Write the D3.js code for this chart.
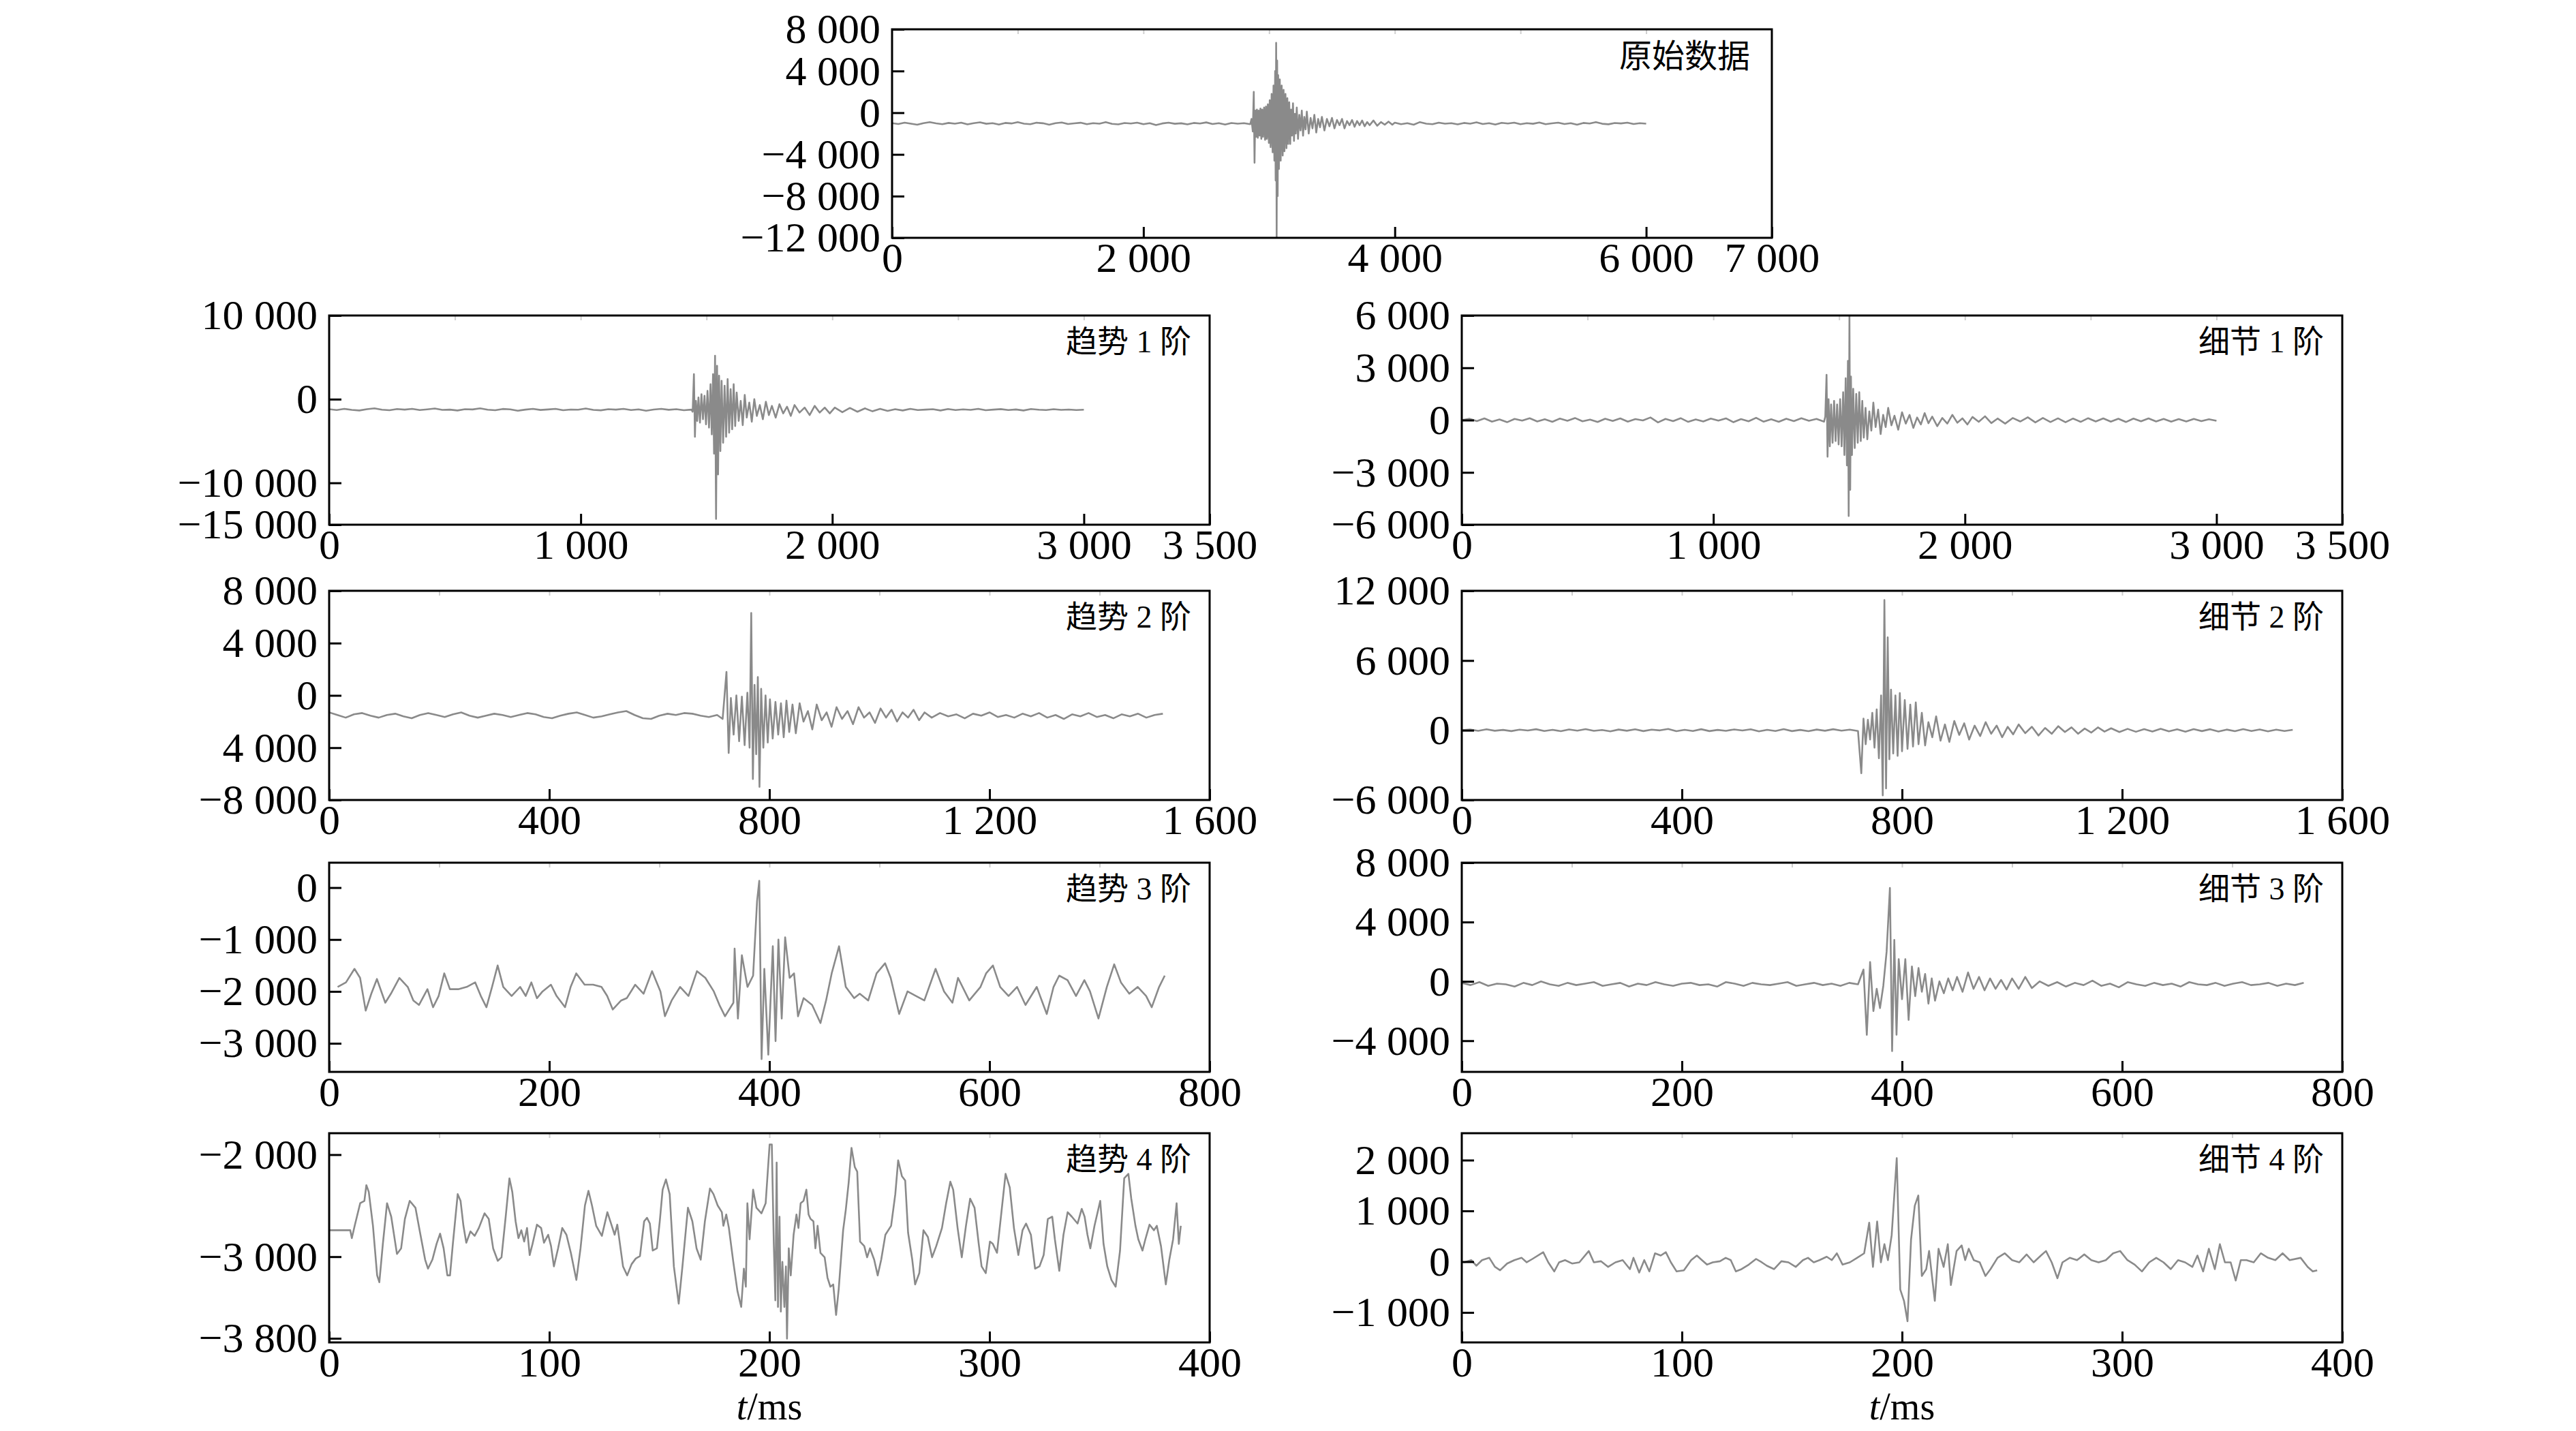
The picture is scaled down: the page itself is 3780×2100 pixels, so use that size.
<!DOCTYPE html>
<html>
<head>
<meta charset="utf-8">
<script src="https://cdn.jsdelivr.net/npm/d3@7"></script>
<style>
  body { margin: 0; background: #fff; }
  svg text { font-family: "Liberation Serif", "Noto Sans CJK SC", serif; fill: #000; }
</style>
</head>
<body>
<svg id="chart" width="3780" height="2100"></svg>
<script>
// ---------------- data ----------------
// quiet stretches are sampled on a regular grid: [start, step, values]
// bursts are written as [t, value] pairs

// raw signal (原始数据)
const rawPre = [-1000,-1080,-950,-1050,-1150,-1000,-900,-1020,-1100,-980,
  -1050,-950,-1120,-1000,-920,-1060,-1000,-1140,-980,-1030,
  -900,-1050,-1100,-960,-1010,-1150,-1000,-940,-1080,-1020,
  -960,-1100,-1000,-1050,-900,-1070,-1120,-990,-1040,-950,
  -1100,-1000,-1180,-1030,-950,-1060,-1010,-1120,-980,-1040,
  -930,-1080,-1000,-1130,-990,-1050,-1000];
const rawBurst = [[2850,-1100],[2860,-600],[2870,-1800],[2878,2000],[2884,-4800],[2890,200],[2896,-2300],[2903,300],[2910,-2400],[2917,200],[2924,-2200],[2931,400],[2938,-2500],[2945,300],[2952,-2300],[2960,500],[2968,-2600],[2975,600],[2982,-2500],[2990,800],[2998,-2900],[3005,1200],[3012,-3300],[3020,1800],[3028,-3800],[3035,2600],[3042,-4600],[3048,4000],[3052,-6500],[3056,6700],[3060,-12000],[3064,5000],[3068,-8000],[3072,3600],[3078,-5400],[3085,3200],[3092,-4600],[3100,2600],[3108,-4100],[3115,2200],[3122,-3700],[3130,1800],[3138,-3400],[3145,1400],[3152,-3000],[3160,1000],[3168,-3000],[3175,300],[3182,-2200],[3190,900],[3198,-2700],[3205,-100],[3212,-2000],[3220,500],[3230,-2500],[3240,-200],[3250,-1700],[3260,200],[3270,-2200],[3280,-400],[3290,-1600],[3300,100],[3315,-2000],[3330,-500],[3345,-1500],[3360,-200],[3375,-1900],[3390,-600],[3405,-1400],[3420,-400],[3440,-1700],[3460,-600],[3480,-1300],[3500,-500],[3520,-1500],[3540,-700],[3560,-1200],[3580,-600],[3600,-1500],[3620,-800],[3640,-1200],[3660,-700],[3680,-1350],[3700,-800],[3720,-1200],[3740,-750],[3760,-1300],[3780,-900],[3800,-1200],[3830,-750],[3860,-1250],[3890,-900],[3920,-1150],[3950,-850],[3980,-1150]];
const rawPost = [-950,-1100,-1000,-1150,-900,-1050,-1100,-950,-1050,-1000,
  -1120,-980,-1050,-920,-1080,-1000,-1130,-970,-1040,-950,
  -1100,-1000,-1060,-940,-1100,-1020,-950,-1080,-1000,-1150,
  -980,-1040,-900,-1060,-1110,-990,-1030,-950,-1080,-1000,-1050];

// trend level 1 (趋势1阶)
const trend1Pre = [-1200,-1300,-1150,-1280,-1350,-1200,-1100,-1260,-1320,-1180,-1250,-1150,-1300,-1220,-1120,-1280,-1250,-1350,-1200,-1230,-1100,-1260,-1320,-1170,-1220,-1380,-1250,-1150,-1290,-1230,-1160,-1320,-1240,-1260,-1120,-1280,-1330,-1200,-1250,-1160,-1300,-1220,-1380,-1240,-1150,-1270,-1200,-1320,-1250];
const trend1Burst = [[1445,-1500],[1450,3000],[1454,-4500],[1458,-200],[1463,-2600],[1468,200],[1474,-2800],[1480,600],[1486,-2400],[1492,400],[1498,-3000],[1504,1000],[1510,-3400],[1516,1800],[1521,-4200],[1526,3000],[1530,-6500],[1534,5200],[1538,-14300],[1542,4000],[1546,-9000],[1550,2800],[1555,-6200],[1560,2200],[1566,-5200],[1572,1600],[1578,-4500],[1584,2400],[1590,-4000],[1596,1200],[1602,-3600],[1608,1800],[1614,-3200],[1620,800],[1628,-2600],[1636,-200],[1644,-3100],[1652,500],[1660,-2200],[1670,-400],[1680,-2700],[1690,0],[1700,-2000],[1712,-700],[1724,-2400],[1736,-300],[1748,-1900],[1760,-800],[1775,-2200],[1790,-600],[1805,-1700],[1820,-900],[1835,-2000],[1850,-700],[1870,-1600],[1890,-1000],[1910,-1900],[1930,-800],[1950,-1600],[1970,-1000],[1990,-1700]];
const trend1Post = [-1000,-1550,-1050,-1500,-1100,-1450,-1150,-1400,-1200,-1350,-1150,-1300,-1250,-1200,-1350,-1180,-1300,-1220,-1280,-1150,-1320,-1250,-1190,-1300,-1230,-1350,-1180,-1260,-1300,-1200,-1280,-1240,-1300,-1260];

// detail level 1 (细节1阶)
const detail1Pre = [0,80,-60,100,-90,40,-120,70,-30,110,-80,50,-100,90,-40,120,-70,30,-110,80,-50,100,-90,60,-20,150,-130,70,-60,110,-100,40,-80,90,-30,100,-120,60,-70,130,-90,50,-100,80,-60,110,-40,70,-90];
const detail1Burst = [[1445,200],[1450,2600],[1454,-2100],[1458,1200],[1463,-1500],[1468,900],[1474,-1300],[1480,1100],[1486,-1200],[1492,900],[1498,-1400],[1504,1200],[1510,-1500],[1516,1600],[1521,-2000],[1526,2400],[1531,-2600],[1535,3400],[1538,-5500],[1541,6000],[1544,-4000],[1547,2500],[1551,-2000],[1556,1800],[1562,-1600],[1568,1500],[1574,-1300],[1580,1600],[1586,-1200],[1592,1100],[1598,-1000],[1605,700],[1612,-1100],[1620,500],[1628,-600],[1636,1000],[1645,-400],[1655,600],[1665,-800],[1675,300],[1685,-400],[1695,700],[1708,-300],[1720,250],[1735,-550],[1750,450],[1765,-200],[1780,300],[1795,-450],[1810,150],[1825,-250],[1840,400],[1855,-180],[1870,200],[1890,-350],[1910,120],[1930,-200],[1950,300],[1970,-150],[1990,100],[2010,-250],[2030,180],[2055,-100],[2080,220],[2105,-170],[2130,90],[2160,-200],[2190,120],[2220,-80],[2250,160],[2280,-130]];
const detail1Post = [120,-110,100,-120,90,-100,110,-80,100,-90,80,-110,90,-70,100,-80,70,-90,60,-80,70,-60,50,-40];

// trend level 2 (趋势2阶)
const trend2Pre = [-1300,-1500,-1700,-1450,-1350,-1550,-1700,-1500,-1400,-1600,-1750,-1500,-1350,-1500,-1650,-1450,-1300,-1550,-1700,-1550,-1400,-1500,-1650,-1500,-1350,-1450,-1650,-1750,-1550,-1400,-1300,-1500,-1700,-1600,-1450,-1300,-1200,-1500,-1750,-1800,-1550,-1400,-1500,-1350,-1400,-1550,-1650,-1500];
const trend2Burst = [[715,-1800],[722,1800],[726,-4400],[730,-200],[735,-3000],[740,0],[745,-3500],[750,-100],[755,-3800],[760,200],[764,-4000],[767,6300],[770,-6400],[773,800],[776,-4500],[779,1400],[782,-7000],[785,500],[789,-4000],[793,0],[797,-3600],[801,-300],[806,-3300],[811,-500],[816,-3000],[821,-600],[826,-3200],[831,-400],[836,-2800],[842,-700],[848,-2900],[855,-600],[862,-2000],[870,-1200],[878,-2600],[886,-700],[895,-1900],[904,-1300],[913,-2400],[922,-900],[932,-1800],[942,-1200],[952,-2200],[962,-900],[972,-1700],[982,-1300],[992,-2100],[1002,-1000],[1012,-1700],[1022,-1100],[1032,-2000],[1042,-1300],[1052,-1700],[1062,-1100],[1072,-1900],[1082,-1300]];
const trend2Post = [-1700,-1350,-1600,-1450,-1750,-1400,-1550,-1300,-1650,-1500,-1700,-1400,-1600,-1350,-1700,-1500,-1800,-1450,-1600,-1350,-1650,-1500,-1750,-1450,-1600,-1400,-1700,-1500,-1400];

// detail level 2 (细节2阶)
const detail2Pre = [0,60,-50,80,-40,30,-70,50,-20,90,-60,40,-80,70,-30,100,-50,20,-90,60,-40,80,-70,50,-10,110,-80,40,-60,90,-70,30,-50,70,-20,80,-90,40,-60,100,-70,30,-80,60,-40,90,-30,50,-60];
const detail2Burst = [[726,-3700],[730,1000],[734,-1200],[738,900],[742,-800],[746,1500],[750,-1500],[754,1800],[758,-2400],[762,3000],[765,-5600],[768,11200],[771,-5000],[774,8000],[777,-2500],[780,3500],[784,-2000],[788,3000],[792,-2200],[796,3200],[800,-1800],[805,2600],[810,-1600],[815,2200],[820,-1400],[825,2400],[830,-1200],[836,1500],[842,-1300],[848,700],[855,-600],[862,1200],[870,-900],[878,500],[886,-1000],[895,800],[904,-400],[913,600],[922,-800],[932,400],[942,-500],[952,700],[962,-300],[972,400],[982,-600],[992,300],[1002,-350],[1012,500],[1024,-250],[1036,300],[1048,-450],[1060,200],[1072,-300],[1084,350],[1096,-150],[1108,250],[1120,-300],[1132,150],[1144,-200],[1156,250],[1168,-120],[1180,170]];
const detail2Post = [-150,120,-130,100,-110,130,-90,80,-120,100,-70,90,-110,60,-80,100,-60,70,-90,50,-60,40];

// trend level 3 (趋势3阶)
const trend3Pts = [[7.7,-1913],[15.3,-1826],[23,-1565],[28.1,-1739],[33.2,-2370],[38.3,-2044],[43.4,-1761],[51,-2217],[56.1,-2044],[63.8,-1739],[71.4,-1913],[76.5,-2174],[81.6,-2261],[89.3,-1957],[94.4,-2304],[99.5,-2087],[104.6,-1652],[109.7,-1957],[117.3,-1957],[125,-1913],[132.7,-1826],[137.8,-2087],[142.9,-2304],[148,-1913],[153.1,-1500],[158.2,-1913],[165.8,-2087],[173.5,-1913],[178.6,-2087],[183.7,-1826],[188.8,-2130],[193.9,-2000],[201.5,-1870],[206.6,-2087],[214.3,-2304],[219.4,-1913],[224.5,-1652],[232.1,-1870],[239.8,-1870],[247.4,-1913],[252.6,-2087],[257.7,-2348],[265.3,-2174],[270.4,-2130],[278.1,-1870],[285.7,-2044],[293.4,-1609],[301,-2000],[305.1,-2478],[311.2,-2174],[318.9,-1913],[326.5,-2087],[334.2,-1609],[341.8,-1739],[349.5,-2000],[354.6,-2261],[359.7,-2478],[367.3,-2217],[368.4,-1174],[371.4,-2522],[375,-1304],[380.1,-1913],[385.2,-1696],[388.8,-261],[390.8,130],[392.9,-3304],[395.4,-1565],[399,-3217],[403.1,-1130],[405.6,-2957],[408.2,-1000],[411.2,-2522],[414.3,-957],[418.4,-1739],[422.4,-1652],[426,-2478],[431.1,-2130],[438.8,-2261],[446.4,-2609],[451.5,-2174],[456.6,-1652],[463.3,-1130],[469.4,-1913],[477,-2130],[482.1,-2044],[489.8,-2174],[497.4,-1652],[505.1,-1457],[510.2,-1739],[517.9,-2435],[525.5,-2000],[533.2,-2087],[540.8,-2174],[551,-1565],[558.7,-2000],[566.3,-2217],[571.4,-1739],[581.6,-2174],[591.8,-1913],[596.9,-1652],[603.1,-1500],[609.7,-1913],[617.3,-2087],[625,-1913],[632.7,-2261],[642.9,-1913],[652,-2435],[658.2,-1913],[663.3,-1696],[670.9,-1783],[678.6,-2087],[686.2,-1783],[691.3,-2000],[699,-2522],[706.6,-1913],[713.3,-1478],[719.4,-1826],[727,-2044],[734.7,-1913],[742.3,-2087],[747.4,-2304],[754.1,-1913],[759.2,-1696]];

// detail level 3 (细节3阶)
const detail3Pre = [-100,-250,-50,-300,-150,-200,-350,-100,-250,0,-200,-300,-100,-250,-150,-50,-300,-200,-100,-350,-150,-250,-50,-200,-300,-150,-100,-250,-200,-350,-50,-150,-300,-100,-200,-250,-150,-50,-300,-200,-100,-250,-150,-300,-100,-200];
const detail3Burst = [[365,800],[368,-3600],[371,1300],[374,-2000],[377,-500],[380,-1800],[383,-300],[386,2000],[389,6300],[391,-4700],[393,2800],[395,-3600],[397,1500],[400,-1200],[403,1500],[406,-2600],[409,1000],[412,-1000],[415,900],[418,-700],[421,500],[424,-1500],[427,200],[430,-1300],[434,0],[438,-800],[442,200],[446,-600],[450,300],[455,-700],[460,600],[465,-500],[470,300],[475,-600],[480,200],[485,-500],[490,100],[495,-550],[500,200],[506,-500],[512,300],[518,-450]];
const detail3Post = [0,-300,-50,-350,-100,-250,50,-300,-150,-400,-50,-200,-300,-100,-250,-150,-350,-50,-200,-250,-100,-300,-150,-50,-250,-200,-100,-300,-150,-250,-100];

// trend level 4 (趋势4阶)
const trend4Pts = [[0,-2741],[5,-2741],[9.6,-2741],[10.3,-2818],[11.6,-2697],[14.1,-2476],[16,-2453],[16.9,-2299],[18,-2365],[19.9,-2697],[21.8,-3183],[22.8,-3250],[24.4,-2874],[26.3,-2476],[28.2,-2608],[30.8,-2973],[32.7,-2918],[34.4,-2630],[36.6,-2453],[39.2,-2520],[41.1,-2741],[43.6,-3029],[44.9,-3117],[46.9,-3029],[48.8,-2874],[50.4,-2774],[52,-2918],[53.7,-3183],[54.9,-3183],[56.2,-2874],[58.4,-2387],[59.7,-2453],[61,-2697],[62.3,-2863],[64.2,-2752],[66.1,-2796],[68,-2719],[70.6,-2575],[72.5,-2630],[74.5,-2918],[76.6,-3040],[78.3,-3006],[80.2,-2608],[81.9,-2232],[83.2,-2365],[84.7,-2653],[86,-2818],[87.3,-2741],[88.6,-2852],[89.9,-2719],[91.1,-2984],[92.4,-2874],[94.4,-2686],[96.3,-2719],[97.6,-2863],[99.5,-2785],[100.8,-2896],[102.1,-3095],[104,-2918],[105.9,-2719],[107.8,-2785],[109.8,-2962],[112.3,-3228],[114.2,-2918],[116.2,-2498],[117.8,-2354],[119.4,-2498],[121.3,-2697],[123.9,-2796],[126.4,-2564],[128.4,-2697],[129.7,-2785],[130.9,-2686],[133.5,-3095],[135.4,-3183],[137.4,-3073],[139.3,-3018],[141.2,-2995],[143.1,-2653],[144.4,-2619],[145.7,-2675],[147,-2940],[148.9,-2918],[150.2,-2653],[151.5,-2343],[153,-2243],[154.7,-2387],[156.6,-3095],[158.8,-3460],[160.5,-3095],[163,-2520],[165,-2653],[166.9,-2918],[168.8,-3029],[170.7,-2653],[173,-2332],[174.6,-2387],[176.5,-2498],[178.4,-2564],[179.1,-2697],[180.4,-2586],[181.6,-2719],[183.6,-3051],[185.5,-3338],[187.2,-3493],[188.4,-3117],[189.3,-3294],[190,-2476],[191,-2830],[192.6,-2343],[194.1,-2520],[196.4,-2575],[198.3,-2476],[200.1,-1900],[201.1,-1900],[202,-2874],[202.7,-3427],[203.3,-2077],[203.9,-3493],[204.6,-2608],[205.2,-3537],[205.9,-3051],[206.8,-3493],[207.5,-3095],[208,-3803],[208.8,-2918],[209.7,-3183],[211,-2785],[212.3,-2586],[213.2,-2719],[214.2,-2476],[215.5,-2453],[216.8,-2343],[217.8,-2586],[218.7,-2630],[220,-2653],[220.9,-2918],[221.9,-2697],[223.2,-2962],[225.1,-3006],[226.4,-3206],[227.7,-3294],[229,-3272],[230.3,-3571],[231.5,-3316],[233.5,-2741],[234.7,-2542],[236,-2277],[237.3,-1934],[238.8,-2122],[239.9,-2166],[241.2,-2852],[243.1,-2896],[244.4,-3006],[245.7,-2918],[247.6,-3029],[249.2,-3183],[250.8,-3029],[252.7,-2785],[255.3,-2697],[257.2,-2387],[258.5,-2055],[260.2,-2210],[261.7,-2254],[263,-2763],[264.9,-3029],[266.2,-3272],[268.1,-3161],[270,-2741],[272,-2807],[273.9,-3006],[275.8,-2896],[278.4,-2719],[280.3,-2476],[282.2,-2265],[283.5,-2343],[285.5,-2719],[287.4,-3006],[289.3,-2697],[291.2,-2431],[293.2,-2520],[295.1,-2874],[296.4,-3095],[298.3,-3161],[300.2,-2852],[301.5,-2874],[303.4,-2962],[305.3,-2586],[307.3,-2188],[309.2,-2321],[311.1,-2719],[313.1,-2984],[315,-2741],[316.6,-2675],[318.8,-2785],[320.7,-3117],[322.7,-3095],[324.6,-2984],[326.5,-2630],[328.5,-2608],[329.7,-2830],[331.7,-3139],[333.6,-2785],[335.5,-2564],[337.4,-2608],[340,-2675],[341.9,-2531],[343.2,-2608],[344.5,-2785],[345.8,-2918],[347.7,-2697],[350.3,-2453],[351.8,-2874],[353.5,-3095],[355.4,-3228],[357.3,-3294],[359.3,-2940],[361.2,-2232],[363.1,-2188],[364.4,-2431],[366.3,-2697],[367.6,-2830],[369.5,-2940],[370.8,-2830],[372.7,-2686],[374.7,-2741],[376,-2697],[377.9,-2896],[380.1,-3272],[381.7,-3029],[383.4,-2830],[385,-2476],[386,-2874],[386.9,-2697]];

// detail level 4 (细节4阶)
const detail4Pts = [[1,-13],[4.3,31],[6.6,-80],[9.2,31],[12.5,76],[15.1,-103],[17.4,-170],[20.6,-36],[23.9,31],[27.2,76],[29.5,-13],[32.1,54],[37,187],[39.3,-13],[42,-192],[44.2,-13],[46.9,31],[50.1,-36],[53.4,-13],[57.7,210],[60,-13],[63.2,9],[66.5,-103],[69.8,-13],[73.1,31],[76.4,-147],[78,76],[80.6,-214],[82.9,31],[85.2,-192],[87.8,165],[90.4,121],[92.7,187],[95,-13],[97.6,-192],[100.9,-170],[104.2,31],[106.8,121],[109.1,31],[111.4,-58],[114,-13],[117.3,9],[119.9,76],[122.2,31],[124.5,-192],[127.1,-147],[130.4,-58],[133.7,54],[136.3,-13],[138.6,-80],[141.9,-147],[145.2,9],[148.4,-13],[151.7,-103],[155,31],[157.3,76],[159.9,-13],[162.5,31],[165.8,98],[168.1,31],[170.4,165],[173,-58],[176.3,-13],[179.6,76],[182.8,165],[185.1,768],[186.8,-103],[188.7,790],[190.4,-13],[192,344],[193.6,31],[195.3,522],[197.6,2040],[199.2,-549],[200.9,-772],[202.5,-1174],[204.1,433],[205.8,1103],[207.4,1304],[209,-281],[211,-147],[212.3,210],[214.9,-772],[216.6,254],[218.9,-103],[220.8,344],[222.2,-460],[224.8,210],[227.1,321],[228.7,31],[230.3,254],[232.6,31],[235.3,-13],[237.9,-281],[240.2,-147],[243.4,76],[246.7,165],[250,31],[253.3,-13],[256.6,143],[259.8,-13],[263.1,121],[265.4,210],[268,-13],[270.6,-326],[272.9,-13],[276.2,76],[279.5,31],[282.8,143],[286,31],[289.3,-13],[292.6,31],[295.9,165],[299.1,210],[302.4,31],[305.7,-58],[309,-192],[312.3,-13],[315.5,76],[318.8,-13],[322.1,-147],[325.4,31],[328.6,-13],[331.9,-103],[334.2,121],[336.8,-192],[339.4,254],[342.1,-147],[344.4,344],[346.7,-13],[349.3,-13],[351.6,-371],[353.9,31],[356.5,31],[359.8,-13],[363,165],[366.3,76],[369.6,31],[372.9,165],[376.1,31],[381.1,76],[384.3,-103],[386.6,-192],[388.6,-170]];

// axis ticks and their printed labels
const rawXTicks = [0, 2000, 4000, 6000, 7000];
const rawXLabels = ["0", "2 000", "4 000", "6 000", "7 000"];
const lvl1XTicks = [0, 1000, 2000, 3000, 3500];
const lvl1XLabels = ["0", "1 000", "2 000", "3 000", "3 500"];
const lvl2XTicks = [0, 400, 800, 1200, 1600];
const lvl2XLabels = ["0", "400", "800", "1 200", "1 600"];
const lvl3XTicks = [0, 200, 400, 600, 800];
const lvl3XLabels = ["0", "200", "400", "600", "800"];
const lvl4XTicks = [0, 100, 200, 300, 400];
const lvl4XLabels = ["0", "100", "200", "300", "400"];

const rawYTicks = [8000, 4000, 0, -4000, -8000, -12000];
const rawYLabels = ["8 000", "4 000", "0", "\u22124 000", "\u22128 000", "\u221212 000"];
const trend1YTicks = [10000, 0, -10000, -15000];
const trend1YLabels = ["10 000", "0", "\u221210 000", "\u221215 000"];
const detail1YTicks = [6000, 3000, 0, -3000, -6000];
const detail1YLabels = ["6 000", "3 000", "0", "\u22123 000", "\u22126 000"];
const trend2YTicks = [8000, 4000, 0, -4000, -8000];
const trend2YLabels = ["8 000", "4 000", "0", "4 000", "\u22128 000"];
const detail2YTicks = [12000, 6000, 0, -6000];
const detail2YLabels = ["12 000", "6 000", "0", "\u22126 000"];
const trend3YTicks = [0, -1000, -2000, -3000];
const trend3YLabels = ["0", "\u22121 000", "\u22122 000", "\u22123 000"];
const detail3YTicks = [8000, 4000, 0, -4000];
const detail3YLabels = ["8 000", "4 000", "0", "\u22124 000"];
const trend4YTicks = [-2000, -3000, -3800];
const trend4YLabels = ["\u22122 000", "\u22123 000", "\u22123 800"];
const detail4YTicks = [2000, 1000, 0, -1000];
const detail4YLabels = ["2 000", "1 000", "0", "\u22121 000"];

// ---------------- assemble series ----------------
function grid(start, step, values) {
  return values.map((v, i) => [start + i * step, v]);
}
const rawData = [].concat(grid(0, 50, rawPre), rawBurst, grid(4000, 50, rawPost));
const trend1Data = [].concat(grid(0, 30, trend1Pre), trend1Burst, grid(2010, 30, trend1Post));
const detail1Data = [].concat(grid(0, 30, detail1Pre), detail1Burst, grid(2310, 30, detail1Post));
const trend2Data = [].concat(grid(0, 15, trend2Pre), trend2Burst, grid(1095, 15, trend2Post));
const detail2Data = [].concat(grid(0, 15, detail2Pre), detail2Burst, grid(1195, 15, detail2Post));
const detail3Data = [].concat(grid(0, 8, detail3Pre), detail3Burst, grid(525, 8, detail3Post));

// ---------------- layout ----------------
const colL = 483, colR = 2145, W = 1292, H = 307;
const rowTop = [463, 867, 1266, 1663];

const panels = [
  {name: "原始数据", left: 1309, top: 43, w: 1291, h: 306, data: rawData, xd: [0, 7000], xt: rawXTicks, xl: rawXLabels, yd: [-12000, 8000], yt: rawYTicks, yl: rawYLabels, minor: 1000},
  {name: "趋势 1 阶", left: colL, top: rowTop[0], w: W, h: H, data: trend1Data, xd: [0, 3500], xt: lvl1XTicks, xl: lvl1XLabels, yd: [-15000, 10000], yt: trend1YTicks, yl: trend1YLabels, minor: 500},
  {name: "细节 1 阶", left: colR, top: rowTop[0], w: W, h: H, data: detail1Data, xd: [0, 3500], xt: lvl1XTicks, xl: lvl1XLabels, yd: [-6000, 6000], yt: detail1YTicks, yl: detail1YLabels, minor: 500},
  {name: "趋势 2 阶", left: colL, top: rowTop[1], w: W, h: H, data: trend2Data, xd: [0, 1600], xt: lvl2XTicks, xl: lvl2XLabels, yd: [-8000, 8000], yt: trend2YTicks, yl: trend2YLabels, minor: 200},
  {name: "细节 2 阶", left: colR, top: rowTop[1], w: W, h: H, data: detail2Data, xd: [0, 1600], xt: lvl2XTicks, xl: lvl2XLabels, yd: [-6000, 12000], yt: detail2YTicks, yl: detail2YLabels, minor: 200},
  {name: "趋势 3 阶", left: colL, top: rowTop[2], w: W, h: H, data: trend3Pts, xd: [0, 800], xt: lvl3XTicks, xl: lvl3XLabels, yd: [-3550, 480], yt: trend3YTicks, yl: trend3YLabels, minor: 100},
  {name: "细节 3 阶", left: colR, top: rowTop[2], w: W, h: H, data: detail3Data, xd: [0, 800], xt: lvl3XTicks, xl: lvl3XLabels, yd: [-6100, 8000], yt: detail3YTicks, yl: detail3YLabels, minor: 100},
  {name: "趋势 4 阶", left: colL, top: rowTop[3], w: W, h: H, data: trend4Pts, xd: [0, 400], xt: lvl4XTicks, xl: lvl4XLabels, yd: [-3840, -1790], yt: trend4YTicks, yl: trend4YLabels, minor: 50, xTitle: true},
  {name: "细节 4 阶", left: colR, top: rowTop[3], w: W, h: H, data: detail4Pts, xd: [0, 400], xt: lvl4XTicks, xl: lvl4XLabels, yd: [-1590, 2530], yt: detail4YTicks, yl: detail4YLabels, minor: 50, xTitle: true}
];

const svg = d3.select("#chart");
svg.append("rect").attr("width", 3780).attr("height", 2100).attr("fill", "#fff");

const FS = 62; // tick label size

panels.forEach((p, k) => {
  const g = svg.append("g").attr("transform", `translate(${p.left},${p.top})`);
  const x = d3.scaleLinear().domain(p.xd).range([0, p.w]);
  const y = d3.scaleLinear().domain(p.yd).range([p.h, 0]);

  g.append("clipPath").attr("id", "clip" + k)
    .append("rect").attr("width", p.w).attr("height", p.h);

  // faint minor ticks along the top edge
  const gm = g.append("g")
    .call(d3.axisTop(x).tickValues(d3.range(p.xd[0] + p.minor, p.xd[1], p.minor)).tickSize(-7).tickFormat(""));
  gm.select(".domain").remove();
  gm.selectAll("line").attr("stroke", "#cfcfcf").attr("stroke-width", 2);

  // signal
  const line = d3.line().x(d => x(d[0])).y(d => y(d[1]));
  g.append("path")
    .datum(p.data)
    .attr("clip-path", `url(#clip${k})`)
    .attr("fill", "none")
    .attr("stroke", "#8a8a8a")
    .attr("stroke-width", 2.6)
    .attr("stroke-linejoin", "round")
    .attr("d", line);

  // x axis
  const gx = g.append("g").attr("transform", `translate(0,${p.h})`)
    .call(d3.axisBottom(x).tickValues(p.xt)
      .tickFormat(d => p.xl[p.xt.indexOf(d)])
      .tickSizeInner(-16).tickSizeOuter(0).tickPadding(6));
  gx.select(".domain").remove();
  gx.attr("font-size", null).attr("font-family", null);
  gx.selectAll("line").attr("stroke", "#000").attr("stroke-width", 3);
  gx.selectAll("text").attr("font-size", FS);

  // y axis
  const gy = g.append("g")
    .call(d3.axisLeft(y).tickValues(p.yt)
      .tickFormat(d => p.yl[p.yt.indexOf(d)])
      .tickSizeInner(-18).tickSizeOuter(0).tickPadding(17));
  gy.select(".domain").remove();
  gy.attr("font-size", null).attr("font-family", null);
  gy.selectAll("line").attr("stroke", "#000").attr("stroke-width", 3);
  gy.selectAll("text").attr("font-size", FS);

  // frame
  g.append("rect")
    .attr("width", p.w).attr("height", p.h)
    .attr("fill", "none").attr("stroke", "#000").attr("stroke-width", 3);

  // panel title
  g.append("text")
    .attr("x", p.w - (k === 0 ? 32 : 27))
    .attr("y", k === 0 ? 56 : 54)
    .attr("text-anchor", "end")
    .attr("font-size", k === 0 ? 48 : 46)
    .text(p.name);

  if (p.xTitle) {
    const t = g.append("text")
      .attr("x", p.w / 2)
      .attr("y", 2083 - p.top)
      .attr("text-anchor", "middle")
      .attr("font-size", 56);
    t.append("tspan").attr("font-style", "italic").text("t");
    t.append("tspan").text("/ms");
  }
});
</script>
</body>
</html>
